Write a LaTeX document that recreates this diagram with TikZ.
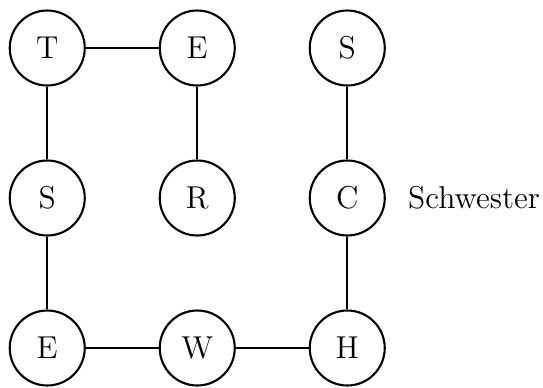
\documentclass[tikz,border=0pt,12pt]{standalone}
\usepackage{tikz}
\usetikzlibrary{positioning}

\begin{document}
\begin{tikzpicture}[
    letter/.style={circle, draw, thick, minimum size=1cm, inner sep=0pt},
    link/.style={thick}
]
    \useasboundingbox (-0.63,0.64) rectangle (6.61,-4.52);

    % Top row
    \node[letter] (t1) at (0,0) {T};
    \node[letter] (e1) at (2,0) {E};
    \node[letter] (s2) at (4,0) {S};

    % Middle row
    \node[letter] (s1) at (0,-2) {S};
    \node[letter] (r1) at (2,-2) {R};
    \node[letter] (c1) at (4,-2) {C};

    % Bottom row
    \node[letter] (e2) at (0,-4) {E};
    \node[letter] (w1) at (2,-4) {W};
    \node[letter] (h1) at (4,-4) {H};

    % Word label
    \node[right=0.15cm of c1] (word) {Schwester};

    % Path through the letters
    \draw[link] (r1) -- (e1);
    \draw[link] (e1) -- (t1);
    \draw[link] (t1) -- (s1);
    \draw[link] (s1) -- (e2);
    \draw[link] (e2) -- (w1);
    \draw[link] (w1) -- (h1);
    \draw[link] (h1) -- (c1);
    \draw[link] (c1) -- (s2);
\end{tikzpicture}
\end{document}
